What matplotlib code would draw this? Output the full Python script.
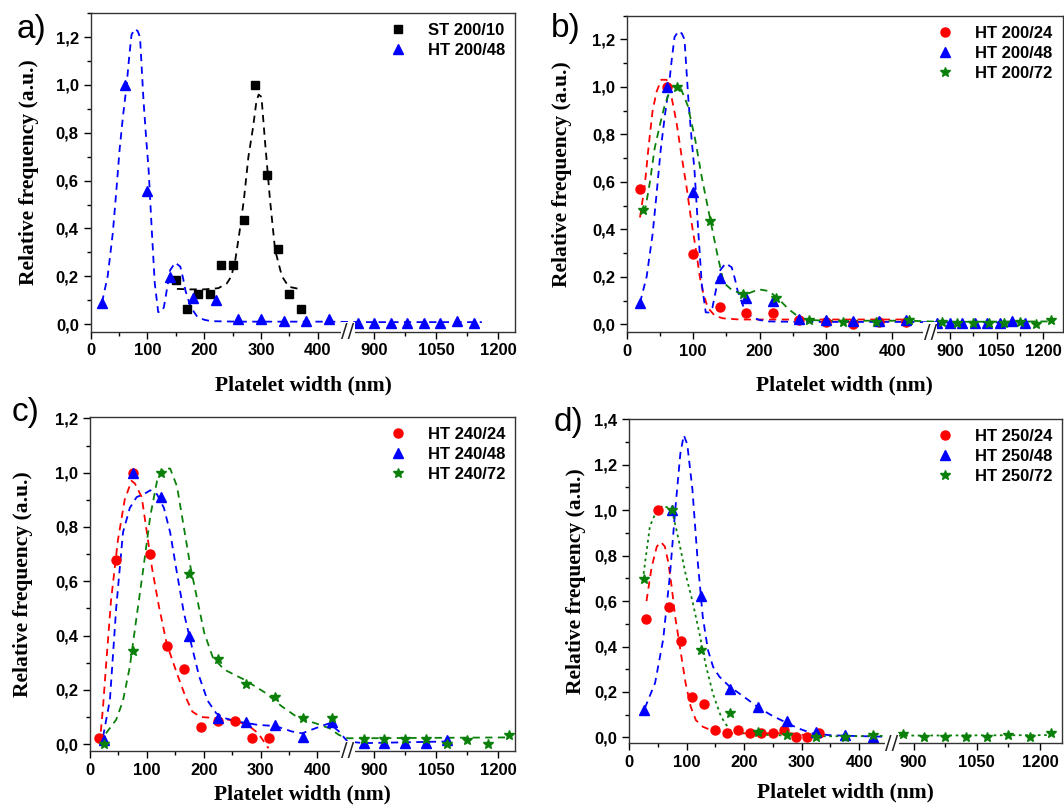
import numpy as np
import matplotlib
matplotlib.use("Agg")
from matplotlib import pyplot as plt
from matplotlib.ticker import MultipleLocator, AutoMinorLocator, FuncFormatter

plt.rcParams['font.family'] = ['Liberation Sans', 'DejaVu Sans']
plt.rcParams['font.weight'] = 'bold'

# ---------------- data ----------------
# a) ST 200/10 and HT 200/48
st200_10_x = [150, 170, 190, 210, 230, 250, 270, 290, 310, 330, 350, 370]
st200_10_y = [0.186, 0.061, 0.125, 0.125, 0.249, 0.249, 0.437, 1.0, 0.623, 0.312, 0.124, 0.061]
st200_10_fit_x = [152, 175, 200, 225, 240, 248, 255, 262, 270, 278, 286, 292, 296, 301, 307, 316, 325, 337, 349, 367]
st200_10_fit_y = [0.147, 0.145, 0.145, 0.15, 0.17, 0.2, 0.27, 0.38, 0.52, 0.7, 0.82, 0.93, 0.96, 0.95, 0.77,
                  0.52, 0.31, 0.2, 0.156, 0.147]

ht200_48_x = [20, 60, 100, 140, 180, 220, 260, 300, 340, 380, 420,
              860, 900, 940, 980, 1020, 1060, 1100, 1140]
ht200_48_y = [0.09, 1.0, 0.556, 0.195, 0.11, 0.10, 0.022, 0.019, 0.0125, 0.0125, 0.02,
              0.005, 0.005, 0.005, 0.005, 0.005, 0.005, 0.0125, 0.005]
ht200_48_fit_x = [20, 30, 39, 45, 51, 57, 63, 68, 72, 78, 83, 87, 93, 98, 102, 108, 113, 119, 124, 129, 134,
                  140, 149, 158, 163, 167, 176, 188, 200, 212, 260, 420, 870, 1160]
ht200_48_fit_y = [0.09, 0.2, 0.38, 0.55, 0.73, 0.87, 0.99, 1.12, 1.21, 1.235, 1.225, 1.2, 0.94, 0.77, 0.65,
                  0.38, 0.17, 0.05, 0.05, 0.07, 0.14, 0.225, 0.257, 0.24, 0.19, 0.14, 0.072, 0.03, 0.018,
                  0.012, 0.01, 0.01, 0.008, 0.008]

# b) HT 200/24, HT 200/48 (same as above), HT 200/72
ht200_24_x = [20, 60, 100, 140, 180, 220, 260, 300, 340, 380, 420]
ht200_24_y = [0.57, 1.0, 0.294, 0.074, 0.046, 0.046, 0.018, 0.01, 0.0, 0.01, 0.01]
ht200_24_fit_x = [20, 27, 33, 39, 45, 52, 60, 68, 75, 82, 90, 97, 105, 110, 115, 122, 133, 145, 170, 260, 430]
ht200_24_fit_y = [0.45, 0.58, 0.75, 0.9, 0.98, 1.03, 1.03, 0.95, 0.85, 0.72, 0.58, 0.44, 0.30, 0.2, 0.133,
                  0.07, 0.035, 0.025, 0.02, 0.02, 0.02]

ht200_72_x = [25, 75, 125, 175, 225, 275, 325, 375, 425, 875, 925, 975, 1025, 1075, 1125, 1175, 1225]
ht200_72_y = [0.48, 1.0, 0.434, 0.126, 0.112, 0.018, 0.01, 0.01, 0.018,
              0.01, 0.005, 0.005, 0.005, 0.005, 0.01, 0.0, 0.018]
ht200_72_fit_x = [27, 35, 42, 50, 57, 67, 75, 82, 92, 103, 113, 123, 136, 146, 158, 171, 183, 199, 214, 229,
                  244, 260, 275, 300, 426, 875, 1225]
ht200_72_fit_y = [0.47, 0.6, 0.74, 0.84, 0.92, 1.0, 1.005, 0.99, 0.92, 0.78, 0.62, 0.48, 0.3, 0.175, 0.145,
                  0.13, 0.13, 0.147, 0.14, 0.105, 0.063, 0.028, 0.018, 0.015, 0.015, 0.01, 0.012]

# c) HT 240/24, 240/48, 240/72
ht240_24_x = [15, 45, 75, 105, 135, 165, 195, 225, 255, 285, 315]
ht240_24_y = [0.022, 0.68, 1.0, 0.702, 0.362, 0.277, 0.065, 0.087, 0.087, 0.022, 0.022]
ht240_24_fit_x = [17, 23, 28, 37, 49, 61, 73, 79, 91, 100, 109, 121, 135, 153, 168, 180, 195, 225, 254, 278,
                  296, 314]
ht240_24_fit_y = [0.0, 0.14, 0.285, 0.53, 0.75, 0.9, 0.97, 0.96, 0.91, 0.78, 0.65, 0.51, 0.37, 0.26, 0.175,
                  0.12, 0.1, 0.096, 0.087, 0.07, 0.04, -0.015]

ht240_48_x = [25, 75, 125, 175, 225, 275, 325, 375, 425, 875, 925, 975, 1025, 1075]
ht240_48_y = [0.016, 1.0, 0.91, 0.40, 0.095, 0.08, 0.071, 0.028, 0.083, 0.004, 0.004, 0.004, 0.004, 0.016]
ht240_48_fit_x = [23, 35, 46, 58, 70, 82, 94, 106, 118, 130, 141, 153, 165, 178, 192, 207, 222, 237, 260, 296,
                  326, 355, 373, 397, 421, 438, 455, 875, 1075]
ht240_48_fit_y = [0.028, 0.163, 0.5, 0.78, 0.87, 0.91, 0.92, 0.935, 0.92, 0.87, 0.78, 0.63, 0.485, 0.37, 0.25,
                  0.16, 0.114, 0.096, 0.083, 0.071, 0.067, 0.047, 0.04, 0.059, 0.077, 0.047, 0.01, 0.004, 0.01]

ht240_72_x = [25, 75, 125, 175, 225, 275, 325, 375, 425, 875, 925, 975, 1025, 1075, 1125, 1175, 1225]
ht240_72_y = [0.0, 0.344, 1.0, 0.625, 0.315, 0.22, 0.175, 0.095, 0.098,
              0.02, 0.02, 0.02, 0.02, 0.0, 0.017, 0.0, 0.033]
ht240_72_fit_x = [28, 46, 58, 70, 82, 94, 106, 118, 130, 141, 153, 165, 177, 189, 201, 216, 236, 272, 308, 337,
                  367, 397, 421, 438, 455, 875, 1225]
ht240_72_fit_y = [0.04, 0.09, 0.16, 0.285, 0.47, 0.65, 0.84, 0.97, 1.015, 1.015, 0.95, 0.8, 0.65, 0.53, 0.41,
                  0.32, 0.275, 0.237, 0.19, 0.14, 0.096, 0.077, 0.059, 0.034, 0.022, 0.022, 0.025]

# d) HT 250/24, 250/48, 250/72
ht250_24_x = [30, 50, 70, 90, 110, 130, 150, 170, 190, 210, 230, 250, 270, 290, 310, 330]
ht250_24_y = [0.523, 1.0, 0.572, 0.425, 0.179, 0.147, 0.032, 0.018, 0.032, 0.018, 0.018, 0.018, 0.032,
              0.0, 0.0, 0.018]
ht250_24_fit_x = [30, 39, 48, 55, 62, 68, 74, 80, 89, 98, 107, 116, 128, 146, 175, 217, 247, 282, 306, 330]
ht250_24_fit_y = [0.6, 0.75, 0.84, 0.86, 0.84, 0.77, 0.66, 0.53, 0.385, 0.24, 0.135, 0.076, 0.047, 0.028,
                  0.018, 0.018, 0.018, 0.018, 0.01, 0.018]

ht250_48_x = [25, 75, 125, 175, 225, 275, 325, 375, 425]
ht250_48_y = [0.12, 1.0, 0.623, 0.213, 0.132, 0.073, 0.022, 0.01, 0.003]
ht250_48_fit_x = [27, 45, 59, 71, 80, 89, 95, 101, 110, 119, 128, 137, 146, 157, 175, 199, 223, 247, 270, 294,
                  318, 348, 395, 443]
ht250_48_fit_y = [0.128, 0.24, 0.43, 0.72, 1.0, 1.25, 1.33, 1.29, 1.09, 0.78, 0.53, 0.385, 0.31, 0.267, 0.223,
                  0.18, 0.135, 0.098, 0.069, 0.04, 0.018, 0.01, 0.006, 0.003]

ht250_72_x = [25, 75, 125, 175, 225, 275, 325, 375, 425, 875, 925, 975, 1025, 1075, 1125, 1175, 1225]
ht250_72_y = [0.695, 1.0, 0.384, 0.106, 0.025, 0.01, 0.003, 0.0, 0.01,
              0.015, 0.0, 0.0, 0.0, 0.0, 0.01, 0.0, 0.018]
ht250_72_fit_x = [25, 36, 48, 59, 68, 77, 86, 98, 110, 122, 134, 146, 160, 175, 199, 247, 336, 425, 875, 1225]
ht250_72_fit_y = [0.72, 0.93, 1.0, 1.02, 1.01, 0.97, 0.87, 0.72, 0.6, 0.46, 0.31, 0.19, 0.09, 0.032, 0.018,
                  0.01, 0.005, 0.006, 0.008, 0.01]

x_major = [0, 100, 200, 300, 400, 900, 1050, 1200]
x_minor = [50, 150, 250, 350, 975, 1125]

RED = '#ff0000'
BLUE = '#0000ff'
GREEN = '#0a800a'
DASH = (0, (4, 3))


def broken_axis(ax, brk, restart, ratio, xmax):
    # compress the gap between brk and restart so both parts share one axis
    xp = [-1000.0, brk, restart, 5000.0]
    fp = [-1000.0, brk, brk + 0.5, brk + 0.5 + (5000.0 - restart) * ratio]
    ax.set_xscale('function', functions=(lambda x: np.interp(x, xp, fp),
                                         lambda u: np.interp(u, fp, xp)))
    ax.set_xlim(0, xmax)
    ax.set_xticks(x_major)
    ax.set_xticks(x_minor, minor=True)
    ax.text(brk, 0, '//', transform=ax.get_xaxis_transform(), ha='center', va='center',
            fontsize=14, fontweight='normal', family='DejaVu Sans', color='#222222',
            bbox=dict(fc='white', ec='none', pad=0.3), clip_on=False, zorder=5)


def style(ax, ylim, ylab_pad, xlab_pad):
    ax.set_ylim(*ylim)
    ax.yaxis.set_major_locator(MultipleLocator(0.2))
    ax.yaxis.set_minor_locator(AutoMinorLocator(2))
    ax.yaxis.set_major_formatter(FuncFormatter(lambda v, p: f"{v:.1f}".replace('.', ',')))
    ax.tick_params(which='both', direction='out', top=False, right=False, labelsize=12, width=1.0)
    ax.tick_params(which='major', length=5)
    ax.tick_params(which='minor', length=3)
    for s in ax.spines.values():
        s.set_linewidth(1.0)
        s.set_color('#333333')
    ax.set_xlabel('Platelet width (nm)', family='Liberation Serif', fontweight='bold', fontsize=15.5,
                  labelpad=xlab_pad)
    ax.set_ylabel('Relative frequency (a.u.)', family='Liberation Serif', fontweight='bold', fontsize=15.5,
                  labelpad=ylab_pad)


def legend(ax):
    ax.legend(loc='upper right', frameon=False, prop=dict(family='Liberation Sans', weight='bold', size=12),
              handlelength=1.0, handletextpad=1.3, labelspacing=0.3, borderaxespad=0.2)


fig = plt.figure(figsize=(10.64, 8.09), dpi=100)

# ---- a) ----
ax = fig.add_axes([0.0852, 0.590, 0.3992, 0.3936])
broken_axis(ax, 453, 837, 0.73, 1241)
ax.plot(st200_10_fit_x, st200_10_fit_y, ls=DASH, color='black', lw=1.3)
ax.plot(ht200_48_fit_x, ht200_48_fit_y, ls=DASH, color=BLUE, lw=1.3)
ax.plot(st200_10_x, st200_10_y, ls='none', marker='s', ms=5.5, color='black', label='ST 200/10')
ax.plot(ht200_48_x, ht200_48_y, ls='none', marker='^', ms=6.5, color=BLUE, label='HT 200/48')
style(ax, (-0.032, 1.3), 12, 12)
legend(ax)

# ---- b) ----
ax = fig.add_axes([0.589, 0.5892, 0.4098, 0.3914])
broken_axis(ax, 457, 839, 0.47, 1262)
ax.plot(ht200_24_fit_x, ht200_24_fit_y, ls=DASH, color=RED, lw=1.3)
ax.plot(ht200_48_fit_x, ht200_48_fit_y, ls=DASH, color=BLUE, lw=1.3)
ax.plot(ht200_72_fit_x, ht200_72_fit_y, ls=DASH, color=GREEN, lw=1.3)
ax.plot(ht200_24_x, ht200_24_y, ls='none', marker='o', ms=6.5, color=RED, label='HT 200/24')
ax.plot(ht200_48_x, ht200_48_y, ls='none', marker='^', ms=6.5, color=BLUE, label='HT 200/48')
ax.plot(ht200_72_x, ht200_72_y, ls='none', marker='*', ms=7, color=GREEN, label='HT 200/72')
style(ax, (-0.034, 1.3), 14, 12)
legend(ax)

# ---- c) ----
ax = fig.add_axes([0.0846, 0.0717, 0.3998, 0.4132])
broken_axis(ax, 453, 837, 0.73, 1241)
ax.plot(ht240_24_fit_x, ht240_24_fit_y, ls=DASH, color=RED, lw=1.3)
ax.plot(ht240_48_fit_x, ht240_48_fit_y, ls=DASH, color=BLUE, lw=1.3)
ax.plot(ht240_72_fit_x, ht240_72_fit_y, ls=DASH, color=GREEN, lw=1.3)
ax.plot(ht240_24_x, ht240_24_y, ls='none', marker='o', ms=6.5, color=RED, label='HT 240/24')
ax.plot(ht240_48_x, ht240_48_y, ls='none', marker='^', ms=6.5, color=BLUE, label='HT 240/48')
ax.plot(ht240_72_x, ht240_72_y, ls='none', marker='*', ms=7, color=GREEN, label='HT 240/72')
style(ax, (-0.025, 1.206), 16, 5)
legend(ax)

# ---- d) ----
ax = fig.add_axes([0.5914, 0.0812, 0.4067, 0.4005])
broken_axis(ax, 457, 849, 0.734, 1252)
ax.plot(ht250_24_fit_x, ht250_24_fit_y, ls=DASH, color=RED, lw=1.3)
ax.plot(ht250_48_fit_x, ht250_48_fit_y, ls=DASH, color=BLUE, lw=1.3)
ax.plot(ht250_72_fit_x, ht250_72_fit_y, ls=(0, (1.5, 2)), color=GREEN, lw=1.3)
ax.plot(ht250_24_x, ht250_24_y, ls='none', marker='o', ms=6.5, color=RED, label='HT 250/24')
ax.plot(ht250_48_x, ht250_48_y, ls='none', marker='^', ms=6.5, color=BLUE, label='HT 250/48')
ax.plot(ht250_72_x, ht250_72_y, ls='none', marker='*', ms=7, color=GREEN, label='HT 250/72')
style(ax, (-0.026, 1.4), 6, 9)
legend(ax)

# panel letters
for x, y, s in [(0.016, 0.963, 'a)'), (0.518, 0.965, 'b)'), (0.011, 0.490, 'c)'), (0.520, 0.478, 'd)')]:
    fig.text(x, y, s, fontsize=24, fontweight='normal', family='Liberation Sans', ha='left', va='center')

fig.savefig('out.png', dpi=100)
